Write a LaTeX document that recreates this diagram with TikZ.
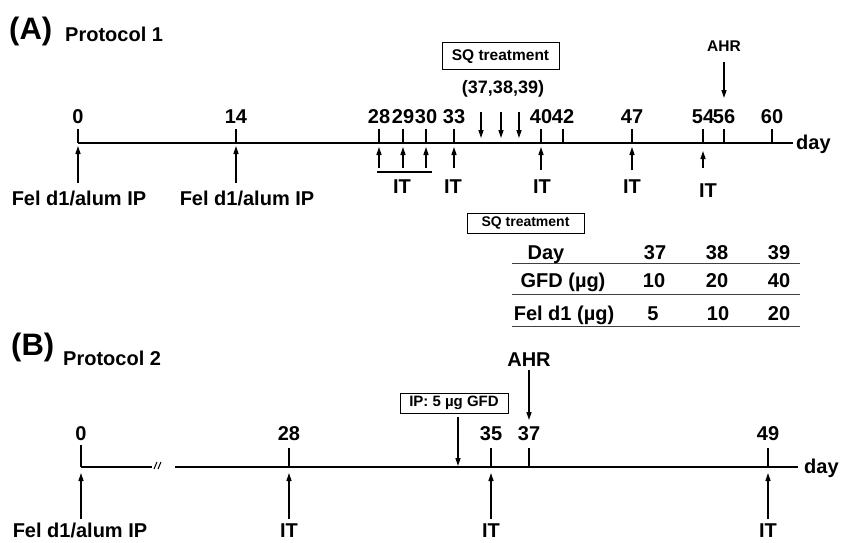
\documentclass[tikz,border=0pt]{standalone}
\usepackage{fontspec}
\setmainfont{Liberation Sans}
\usetikzlibrary{arrows.meta}
\begin{document}
\begin{tikzpicture}[x=1pt,y=-1pt,
  every node/.style={inner sep=0pt},
  big/.style={font=\bfseries\fontsize{31}{34}\selectfont},
  lab/.style={font=\bfseries\fontsize{20}{23}\selectfont},
  mid/.style={font=\bfseries\fontsize{18}{21}\selectfont},
  sml/.style={font=\bfseries\fontsize{15.5}{18}\selectfont},
  axisline/.style={line width=2pt},
  thinaxis/.style={line width=1.2pt},
  tickline/.style={line width=1.4pt},
  arr/.style={line width=1.4pt,-{Triangle[length=8pt,width=5pt]}},
  boxed/.style={draw,line width=1pt,inner xsep=4pt,inner ysep=3pt},
  rule/.style={line width=1pt,black!75}]
\useasboundingbox (0,0) rectangle (846,543);

% ---------------- (A) Protocol 1 ----------------
\node[big,anchor=base west] (hA) at (9,40) {(A)};
\node[lab,anchor=base west] (pA) at (65,42) {Protocol 1};

\coordinate (AS) at (78,143);
\coordinate (AE) at (793,143);
\draw[axisline] (AS) -- (AE);
\node[lab,anchor=base west] (dayA) at (796,149) {day};

\foreach \d/\x in {0/78,14/236,28/379,29/403,30/426,33/454,40/541,42/563,47/632,54/703,56/724,60/772}{
  \coordinate (A\d) at (\x,143);
  \coordinate (At\d) at (\x,129);
  \draw[tickline] (A\d) -- (At\d);
  \node[lab,anchor=base] (Al\d) at (\x,123) {\d};
}

% Fel d1 / alum IP arrows
\coordinate (Af0) at (78,183);
\coordinate (Af14) at (236,183);
\coordinate (Ah0) at (78,146);
\coordinate (Ah14) at (236,146);
\draw[arr] (Af0) -- (Ah0);
\draw[arr] (Af14) -- (Ah14);
\node[lab,anchor=base] (fel1) at (79,205) {Fel d1/alum IP};
\node[lab,anchor=base] (fel2) at (247,205) {Fel d1/alum IP};

% IT arrows
\foreach \d/\x/\t/\h in {28/379/168/147,29/403/168/147,30/426/168/147,33/454/168/147,40/541/170/147,47/632/170/147,54/703/168/151}{
  \coordinate (Ai\d) at (\x,\t);
  \coordinate (Aj\d) at (\x,\h);
  \draw[arr] (Ai\d) -- (Aj\d);
}
\coordinate (brL) at (377,172);
\coordinate (brR) at (432,172);
\draw[line width=1.2pt] (brL) -- (brR);
\node[lab,anchor=base] (it1) at (402,193) {IT};
\node[lab,anchor=base] (it2) at (453,193) {IT};
\node[lab,anchor=base] (it3) at (542,193) {IT};
\node[lab,anchor=base] (it4) at (632,193) {IT};
\node[lab,anchor=base] (it5) at (708,197) {IT};

% SQ treatment
\node[boxed,sml,minimum width=117pt,minimum height=27pt] (sq1) at (500.5,56.5) {SQ treatment};
\node[mid,anchor=base] (days) at (503,93) {(37,38,39)};
\foreach \i/\x in {1/481,2/501,3/519}{
  \coordinate (sqa\i) at (\x,112);
  \coordinate (sqb\i) at (\x,138);
  \draw[arr] (sqa\i) -- (sqb\i);
}

% AHR
\node[sml,anchor=base] (ahrA) at (724,52) {AHR};
\coordinate (ahrAs) at (724,62);
\coordinate (ahrAt) at (724,98);
\draw[arr] (ahrAs) -- (ahrAt);

% Table
\node[boxed,font=\bfseries\fontsize{14}{16}\selectfont,minimum width=117pt,minimum height=20pt] (sq2) at (525.5,223) {SQ treatment};
\coordinate (r1L) at (512,263); \coordinate (r1R) at (800,263);
\coordinate (r2L) at (512,294); \coordinate (r2R) at (800,294);
\coordinate (r3L) at (512,326); \coordinate (r3R) at (800,326);
\draw[rule] (r1L) -- (r1R);
\draw[rule] (r2L) -- (r2R);
\draw[rule] (r3L) -- (r3R);
\node[lab,anchor=base] (tDay) at (546,259) {Day};
\node[lab,anchor=base] (t37) at (655,259) {37};
\node[lab,anchor=base] (t38) at (717,259) {38};
\node[lab,anchor=base] (t39) at (779,259) {39};
\node[lab,anchor=base] (tGFD) at (563,287) {GFD (µg)};
\node[lab,anchor=base] (g10) at (654,287) {10};
\node[lab,anchor=base] (g20) at (717,287) {20};
\node[lab,anchor=base] (g40) at (779,287) {40};
\node[lab,anchor=base] (tFel) at (564,320) {Fel d1 (µg)};
\node[lab,anchor=base] (f5) at (653,320) {5};
\node[lab,anchor=base] (f10) at (718,320) {10};
\node[lab,anchor=base] (f20) at (779,320) {20};

% ---------------- (B) Protocol 2 ----------------
\node[big,anchor=base west] (hB) at (11,355) {(B)};
\node[lab,anchor=base west] (pB) at (63,365) {Protocol 2};

\coordinate (B0) at (81,467);
\coordinate (B0t) at (81,445);
\coordinate (B0e) at (152,467);
\draw[tickline] (B0t) -- (B0);
\draw[thinaxis] (B0) -- (B0e);
\draw[line width=1pt] (154,469) -- (157,462);
\draw[line width=1pt] (158,469) -- (161,462);
\coordinate (BS) at (175,467);
\coordinate (BE) at (798,467);
\draw[axisline] (BS) -- (BE);
\node[lab,anchor=base west] (dayB) at (804,473) {day};
\node[lab,anchor=base] (Bl0) at (81,440) {0};

\foreach \d/\x in {28/289,35/491,37/529,49/768}{
  \coordinate (B\d) at (\x,467);
  \coordinate (Bt\d) at (\x,448);
  \draw[tickline] (B\d) -- (Bt\d);
  \node[lab,anchor=base] (Bl\d) at (\x,440) {\d};
}

\foreach \d/\x in {0/81,28/289,35/491,49/768}{
  \coordinate (Bi\d) at (\x,519);
  \coordinate (Bj\d) at (\x,473);
  \draw[arr] (Bi\d) -- (Bj\d);
}
\node[lab,anchor=base] (fel3) at (80,537) {Fel d1/alum IP};
\node[lab,anchor=base] (itB1) at (289,537) {IT};
\node[lab,anchor=base] (itB2) at (491,537) {IT};
\node[lab,anchor=base] (itB3) at (768,537) {IT};

\node[boxed,font=\bfseries\fontsize{15}{17}\selectfont,minimum width=108pt,minimum height=20pt] (ipbox) at (454,403) {IP: 5 µg GFD};
\coordinate (ipS) at (458,417);
\coordinate (ipT) at (458,466);
\draw[arr] (ipS) -- (ipT);

\node[lab,anchor=base] (ahrB) at (529,366) {AHR};
\coordinate (ahrBs) at (529,370);
\coordinate (ahrBt) at (529,420);
\draw[arr] (ahrBs) -- (ahrBt);
\end{tikzpicture}
\end{document}
